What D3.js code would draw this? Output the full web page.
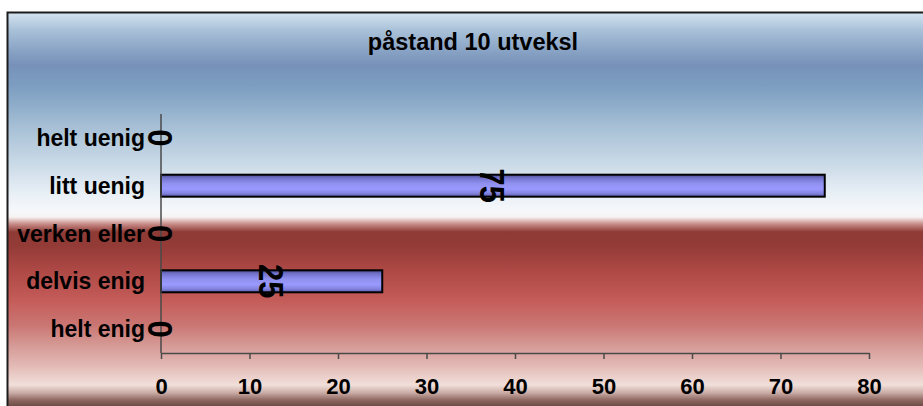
<!DOCTYPE html>
<html>
<head>
<meta charset="utf-8">
<script src="https://cdn.jsdelivr.net/npm/d3@7"></script>
<style>
  html, body { margin: 0; padding: 0; background: #fff; }
  svg { display: block; }
  text { font-family: "Liberation Sans", Arial, sans-serif; font-weight: bold; fill: #000; }
</style>
</head>
<body>
<svg id="chart" width="923" height="406"></svg>
<script>
// Survey answers for "påstand 10 utveksl" (top to bottom)
const categories = ["helt uenig", "litt uenig", "verken eller", "delvis enig", "helt enig"];
const values = [0, 75, 0, 25, 0];
const xTicks = [0, 10, 20, 30, 40, 50, 60, 70, 80];
const title = "påstand 10 utveksl";

const W = 923, H = 406;
const svg = d3.select("#chart");
const defs = svg.append("defs");

// Background: blue sky fading to white, then a deep red band fading to pale pink
const bgStops = [
  [12, "#d6e5f1"], [30, "#a9c1d8"], [50, "#8aa4c6"], [65, "#7791b9"],
  [85, "#7c9dc0"], [105, "#8eadca"], [130, "#aac2d7"], [160, "#c6d7e5"],
  [190, "#e5edf4"], [210, "#f5f8fb"], [217, "#f7f3f3"], [224, "#c88c88"],
  [232, "#8e3a35"], [245, "#933b37"], [270, "#ad4845"], [300, "#c45c59"],
  [325, "#ca7673"], [345, "#d59995"], [365, "#e2b8b4"], [385, "#f1dfda"],
  [393, "#c9aaa4"], [400, "#8e6861"], [406, "#6e4d47"]
];
const bg = defs.append("linearGradient")
  .attr("id", "bg").attr("gradientUnits", "userSpaceOnUse")
  .attr("x1", 0).attr("x2", 0).attr("y1", 0).attr("y2", H);
bg.selectAll("stop").data(bgStops).join("stop")
  .attr("offset", d => d[0] / H).attr("stop-color", d => d[1]);

// Bar fill: lavender with darker shading at top and bottom edges
const barStops = [[0, "#4a4a90"], [0.15, "#7272cc"], [0.4, "#9090f0"], [0.65, "#9a9aff"], [0.85, "#8282de"], [1, "#5858a8"]];
const bg2 = defs.append("linearGradient")
  .attr("id", "barFill").attr("x1", 0).attr("x2", 0).attr("y1", 0).attr("y2", 1);
bg2.selectAll("stop").data(barStops).join("stop")
  .attr("offset", d => d[0]).attr("stop-color", d => d[1]);

svg.append("rect")
  .attr("x", 7.5).attr("y", 12.5).attr("width", 940).attr("height", 410)
  .attr("fill", "url(#bg)").attr("stroke", "#1c1c1c").attr("stroke-width", 2);

// Title
svg.append("text")
  .attr("x", 473).attr("y", 50)
  .attr("text-anchor", "middle").style("font-size", "23.5px")
  .text(title);

// Scales
const x = d3.scaleLinear().domain([0, 80]).range([161, 869]);
const y = d3.scaleBand().domain(categories).range([114, 353]).paddingInner(0.54).paddingOuter(0.27);

// Bars
const rows = categories.map((c, i) => ({ cat: c, val: values[i] }));
svg.append("g").selectAll("rect").data(rows.filter(d => d.val > 0)).join("rect")
  .attr("x", x(0)).attr("y", d => y(d.cat))
  .attr("width", d => x(d.val) - x(0)).attr("height", y.bandwidth())
  .attr("fill", "url(#barFill)").attr("stroke", "#000").attr("stroke-width", 2);

// Axes
const axisColor = "#4a4a4a";
svg.append("line")
  .attr("x1", x(0)).attr("x2", x(0)).attr("y1", 114).attr("y2", 353)
  .attr("stroke", axisColor).attr("stroke-width", 1.5);

const xAxis = svg.append("g").attr("transform", "translate(0,353)")
  .call(d3.axisBottom(x).tickValues(xTicks).tickSize(6).tickSizeOuter(0).tickFormat(d3.format("d")));
xAxis.select(".domain").attr("stroke", axisColor).attr("stroke-width", 1.5);
xAxis.selectAll(".tick line").attr("stroke", axisColor).attr("stroke-width", 1.5);
xAxis.selectAll(".tick text")
  .attr("y", 41).attr("dy", 0)
  .style("font-size", "22px").style("font-family", "'Liberation Sans', Arial, sans-serif")
  .style("font-weight", "bold").attr("fill", "#000");

// Category labels
svg.append("g").selectAll("text").data(categories).join("text")
  .attr("x", 145).attr("y", d => y(d) + y.bandwidth() / 2)
  .attr("dy", "0.35em").attr("text-anchor", "end")
  .style("font-size", "23px")
  .text(d => d);

// Value labels, rotated to read downward, centred on each bar
svg.append("g").selectAll("text").data(rows).join("text")
  .attr("transform", d => `translate(${(x(0) + x(d.val)) / 2},${y(d.cat) + y.bandwidth() / 2}) rotate(90) scale(1,1.12)`)
  .attr("text-anchor", "middle").attr("dy", "0.36em")
  .style("font-size", "31px")
  .text(d => d.val);
</script>
</body>
</html>
